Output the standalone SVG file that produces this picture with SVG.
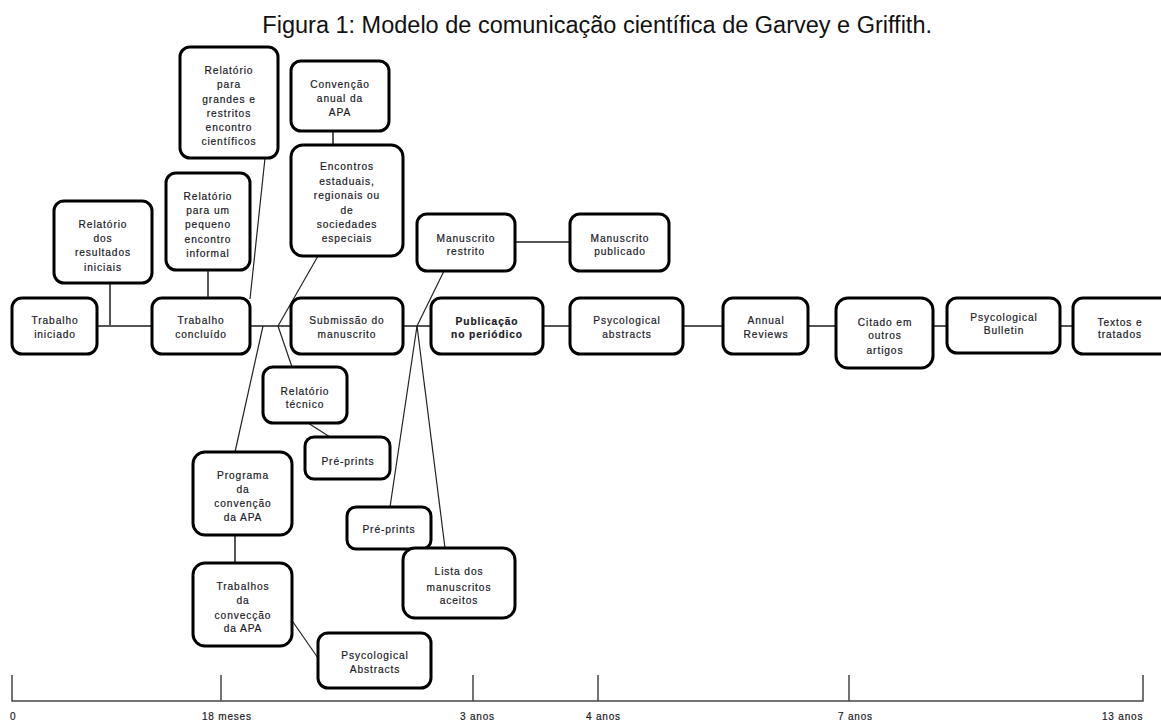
<svg xmlns="http://www.w3.org/2000/svg" width="1161" height="722" viewBox="0 0 1161 722">
  <style>
    .box { fill: #ffffff; stroke: #000000; stroke-width: 3; }
    .lbl { font-family: "Liberation Sans", Arial, sans-serif; font-size: 10.2px; letter-spacing: 0.9px; fill: #1a1a26; stroke: #1a1a26; stroke-width: 0.2; text-anchor: middle; }
    .bold { font-weight: bold; }
    .main { stroke: #555555; stroke-width: 2; fill: none; }
    .link { stroke: #222222; stroke-width: 1.2; fill: none; }
    .axis { stroke: #444444; stroke-width: 1.5; fill: none; }
    .tick { font-family: "Liberation Sans", Arial, sans-serif; font-size: 10px; letter-spacing: 0.8px; fill: #1a1a26; stroke: #1a1a26; stroke-width: 0.2; }
    .title { font-family: "Liberation Sans", Arial, sans-serif; font-size: 23.5px; fill: #111111; text-anchor: end; }
  </style>
  <rect width="1161" height="722" fill="#ffffff"/>

  <text class="title" x="932" y="33">Figura 1: Modelo de comunicação científica de Garvey e Griffith.</text>

  <!-- connectors -->
  <g id="connectors">
    <line class="main" x1="97" y1="326" x2="1080" y2="326"/>
    <line class="main" x1="110" y1="283" x2="110" y2="326"/>
    <line class="main" x1="208" y1="270" x2="208" y2="298"/>
    <line class="main" x1="333" y1="131" x2="333" y2="145"/>
    <line class="main" x1="515" y1="242" x2="570" y2="242"/>
    <line class="main" x1="235" y1="535" x2="235" y2="563"/>
    <line class="link" x1="265" y1="158" x2="250" y2="299"/>
    <line class="link" x1="318" y1="256" x2="278" y2="326"/>
    <line class="link" x1="278" y1="326" x2="292" y2="367"/>
    <line class="link" x1="263" y1="326" x2="235" y2="452"/>
    <line class="link" x1="308" y1="423" x2="330" y2="437"/>
    <line class="link" x1="293" y1="622" x2="318" y2="658"/>
    <line class="link" x1="444" y1="271" x2="417" y2="326"/>
    <line class="link" x1="417" y1="326" x2="390" y2="507"/>
    <line class="link" x1="417" y1="326" x2="445" y2="548"/>
  </g>

  <!-- nodes -->
  <g id="trabalho-iniciado">
    <rect class="box" x="12" y="298" width="85" height="56" rx="10"/>
    <text class="lbl"><tspan x="55" y="323.5">Trabalho</tspan><tspan x="55" y="337.5">iniciado</tspan></text>
  </g>
  <g id="relatorio-resultados">
    <rect class="box" x="54" y="201" width="98" height="82" rx="10"/>
    <text class="lbl"><tspan x="103" y="227.5">Relatório</tspan><tspan x="103" y="241.5">dos</tspan><tspan x="103" y="256">resultados</tspan><tspan x="103" y="270.5">iniciais</tspan></text>
  </g>
  <g id="trabalho-concluido">
    <rect class="box" x="152" y="298" width="98" height="56" rx="10"/>
    <text class="lbl"><tspan x="201" y="323.5">Trabalho</tspan><tspan x="201" y="337.5">concluído</tspan></text>
  </g>
  <g id="relatorio-pequeno">
    <rect class="box" x="166" y="173" width="84" height="97" rx="10"/>
    <text class="lbl"><tspan x="208" y="199.5">Relatório</tspan><tspan x="208" y="213.5">para um</tspan><tspan x="208" y="227.5">pequeno</tspan><tspan x="208" y="242.5">encontro</tspan><tspan x="208" y="256.5">informal</tspan></text>
  </g>
  <g id="relatorio-grandes">
    <rect class="box" x="180" y="47" width="98" height="111" rx="10"/>
    <text class="lbl"><tspan x="229" y="73.5">Relatório</tspan><tspan x="229" y="87.5">para</tspan><tspan x="229" y="102.5">grandes e</tspan><tspan x="229" y="116.5">restritos</tspan><tspan x="229" y="130.5">encontro</tspan><tspan x="229" y="144.5">científicos</tspan></text>
  </g>
  <g id="convencao-anual">
    <rect class="box" x="291" y="61" width="98" height="70" rx="10"/>
    <text class="lbl"><tspan x="340" y="87.5">Convenção</tspan><tspan x="340" y="102">anual da</tspan><tspan x="340" y="115.5">APA</tspan></text>
  </g>
  <g id="encontros-estaduais">
    <rect class="box" x="291" y="145" width="112" height="111" rx="12"/>
    <text class="lbl"><tspan x="347" y="170">Encontros</tspan><tspan x="347" y="185">estaduais,</tspan><tspan x="347" y="199">regionais ou</tspan><tspan x="347" y="214">de</tspan><tspan x="347" y="227.5">sociedades</tspan><tspan x="347" y="241.5">especiais</tspan></text>
  </g>
  <g id="submissao">
    <rect class="box" x="291" y="298" width="112" height="56" rx="10"/>
    <text class="lbl"><tspan x="347" y="323.5">Submissão do</tspan><tspan x="347" y="337.5">manuscrito</tspan></text>
  </g>
  <g id="manuscrito-restrito">
    <rect class="box" x="417" y="214" width="98" height="57" rx="10"/>
    <text class="lbl"><tspan x="466" y="241.5">Manuscrito</tspan><tspan x="466" y="254.5">restrito</tspan></text>
  </g>
  <g id="manuscrito-publicado">
    <rect class="box" x="570" y="214" width="99" height="57" rx="10"/>
    <text class="lbl"><tspan x="620" y="241.5">Manuscrito</tspan><tspan x="620" y="254.5">publicado</tspan></text>
  </g>
  <g id="publicacao-periodico">
    <rect class="box" x="431" y="298" width="112" height="56" rx="10"/>
    <text class="lbl bold"><tspan x="487" y="324.5">Publicação</tspan><tspan x="487" y="337.5">no periódico</tspan></text>
  </g>
  <g id="psycological-abstracts">
    <rect class="box" x="570" y="298" width="113" height="56" rx="10"/>
    <text class="lbl"><tspan x="627" y="323.5">Psycological</tspan><tspan x="627" y="337.5">abstracts</tspan></text>
  </g>
  <g id="annual-reviews">
    <rect class="box" x="723" y="298" width="85" height="56" rx="10"/>
    <text class="lbl"><tspan x="766" y="323.5">Annual</tspan><tspan x="766" y="337.5">Reviews</tspan></text>
  </g>
  <g id="citado-outros">
    <rect class="box" x="836" y="298" width="97" height="70" rx="12"/>
    <text class="lbl"><tspan x="885" y="325.5">Citado em</tspan><tspan x="885" y="338.5">outros</tspan><tspan x="885" y="353.5">artigos</tspan></text>
  </g>
  <g id="psycological-bulletin">
    <rect class="box" x="947" y="298" width="113" height="55" rx="10"/>
    <text class="lbl"><tspan x="1004" y="320.5">Psycological</tspan><tspan x="1004" y="333.5">Bulletin</tspan></text>
  </g>
  <g id="textos-tratados">
    <rect class="box" x="1073" y="298" width="100" height="56" rx="10"/>
    <text class="lbl"><tspan x="1120" y="325.5">Textos e</tspan><tspan x="1120" y="337.5">tratados</tspan></text>
  </g>
  <g id="relatorio-tecnico">
    <rect class="box" x="263" y="367" width="84" height="56" rx="10"/>
    <text class="lbl"><tspan x="305" y="394.5">Relatório</tspan><tspan x="305" y="407.5">técnico</tspan></text>
  </g>
  <g id="pre-prints-1">
    <rect class="box" x="305" y="437" width="85" height="42" rx="9"/>
    <text class="lbl"><tspan x="348" y="464.5">Pré-prints</tspan></text>
  </g>
  <g id="programa-convencao">
    <rect class="box" x="193" y="452" width="99" height="83" rx="12"/>
    <text class="lbl"><tspan x="243" y="478.5">Programa</tspan><tspan x="243" y="493">da</tspan><tspan x="243" y="507">convenção</tspan><tspan x="243" y="521">da APA</tspan></text>
  </g>
  <g id="trabalhos-convecao">
    <rect class="box" x="193" y="563" width="99" height="83" rx="12"/>
    <text class="lbl"><tspan x="243" y="589.5">Trabalhos</tspan><tspan x="243" y="603.5">da</tspan><tspan x="243" y="618.5">convecção</tspan><tspan x="243" y="631.5">da APA</tspan></text>
  </g>
  <g id="psycological-abstracts-2">
    <rect class="box" x="318" y="633" width="113" height="55" rx="10"/>
    <text class="lbl"><tspan x="375" y="658.5">Psycological</tspan><tspan x="375" y="672.5">Abstracts</tspan></text>
  </g>
  <g id="pre-prints-2">
    <rect class="box" x="347" y="507" width="84" height="42" rx="9"/>
    <text class="lbl"><tspan x="389" y="532.5">Pré-prints</tspan></text>
  </g>
  <g id="lista-aceitos">
    <rect class="box" x="403" y="548" width="112" height="70" rx="12"/>
    <text class="lbl"><tspan x="459" y="575">Lista dos</tspan><tspan x="459" y="590.5">manuscritos</tspan><tspan x="459" y="604">aceitos</tspan></text>
  </g>

  <!-- time axis -->
  <g id="timeline">
    <polyline class="axis" points="12,675 12,701 1143,701 1143,675"/>
    <line class="axis" x1="221" y1="675" x2="221" y2="701"/>
    <line class="axis" x1="473" y1="675" x2="473" y2="701"/>
    <line class="axis" x1="598" y1="675" x2="598" y2="701"/>
    <line class="axis" x1="849" y1="675" x2="849" y2="701"/>
    <text class="tick" x="10" y="720">0</text>
    <text class="tick" x="202" y="720">18 meses</text>
    <text class="tick" x="460" y="720">3 anos</text>
    <text class="tick" x="586" y="720">4 anos</text>
    <text class="tick" x="838" y="720">7 anos</text>
    <text class="tick" x="1102" y="720">13 anos</text>
  </g>
</svg>
